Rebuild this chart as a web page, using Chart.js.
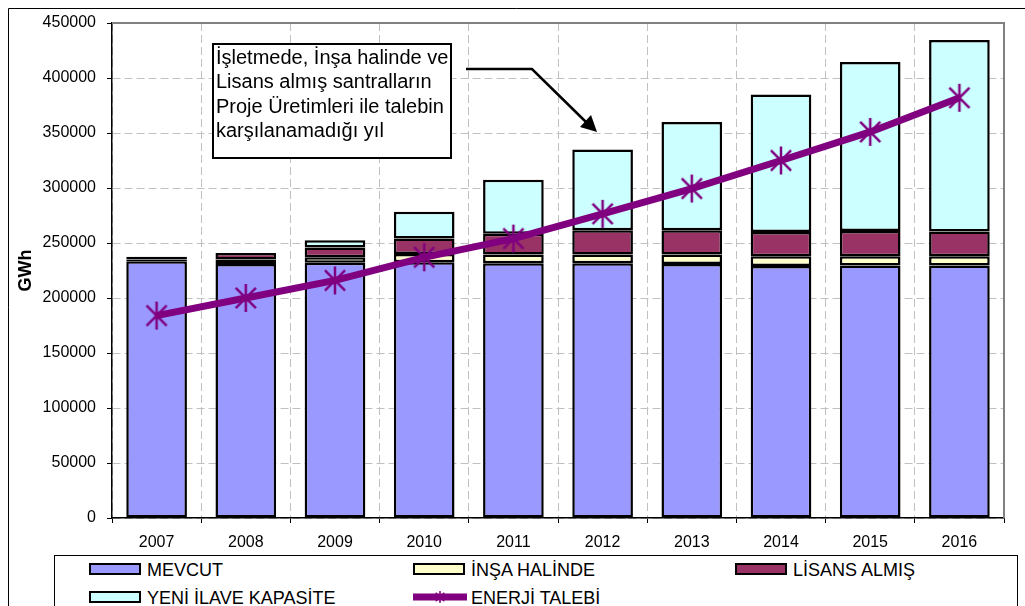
<!DOCTYPE html>
<html>
<head>
<meta charset="utf-8">
<script src="https://cdn.jsdelivr.net/npm/chart.js@4"></script>
<style>
  body { margin: 0; background: #fff; }
  #wrap { position: relative; width: 1025px; height: 606px; overflow: hidden; font-family: "Liberation Sans", Arial, sans-serif; }
  #legend { position: absolute; left: 54px; top: 555px; width: 962px; height: 60px; border: 1px solid #000; background: #fff; }
  .item { position: absolute; font-size: 18px; line-height: 18px; color: #000; white-space: nowrap; }
  .sw { position: absolute; width: 48px; height: 8px; border: 2px solid #000; }
</style>
</head>
<body>
<div id="wrap">
  <canvas id="chart" width="1025" height="606"></canvas>
  <div id="legend"></div>
</div>
<script>
    // Data
    const years = ['2007', '2008', '2009', '2010', '2011', '2012', '2013', '2014', '2015', '2016'];
    const mevcut = [233500, 231000, 232000, 232500, 231500, 231500, 231000, 229000, 229500, 229500];
    const insa   = [1500, 4000, 5000, 7500, 8000, 8000, 8500, 9000, 8500, 8500];
    const lisans = [2500, 6000, 9000, 14000, 19000, 22000, 22000, 22000, 23000, 22500];
    const yeni   = [0, 0, 6500, 24500, 49000, 73500, 98500, 125000, 153500, 174000];
    const talep  = [184000, 200000, 216000, 237000, 254000, 276500, 299500, 325000, 351000, 382000];
    const yTicks = [0, 50000, 100000, 150000, 200000, 250000, 300000, 350000, 400000, 450000];

    const seriesNames = ['MEVCUT', 'İNŞA HALİNDE', 'LİSANS ALMIŞ', 'YENİ İLAVE KAPASİTE', 'ENERJİ TALEBİ'];
    const colors = ['#9999FF', '#FFFFCC', '#993366', '#CCFFFF', '#800080'];
    const noteLines = ['İşletmede, İnşa halinde ve', 'Lisans almış santralların', 'Proje Üretimleri ile talebin', 'karşılanamadığı yıl'];

    Chart.defaults.font.family = '"Liberation Sans", Arial, sans-serif';
    Chart.defaults.color = '#000';

    // Excel-like asterisk marker
    function makeStar(r, w) {
      const c = document.createElement('canvas');
      c.width = c.height = r * 2 + 4;
      const g = c.getContext('2d');
      const m = r + 2;
      g.strokeStyle = colors[4];
      g.lineWidth = w;
      g.beginPath();
      g.moveTo(m, m - r); g.lineTo(m, m + r);
      const d = r * 0.72;
      g.moveTo(m - d, m - d); g.lineTo(m + d, m + d);
      g.moveTo(m + d, m - d); g.lineTo(m - d, m + d);
      g.stroke();
      return c;
    }
    const star = makeStar(14, 2.5);

    // frame, plot border and annotation
    const decor = {
      id: 'decor',
      beforeDraw(chart) {
        const ctx = chart.ctx;
        ctx.save();
        ctx.fillStyle = '#fff';
        ctx.fillRect(0, 0, chart.width, chart.height);
        ctx.strokeStyle = '#000';
        ctx.lineWidth = 1;
        ctx.beginPath();
        ctx.moveTo(8.5, chart.height); ctx.lineTo(8.5, 8.5); ctx.lineTo(chart.width, 8.5);
        ctx.stroke();
        ctx.restore();
      },
      afterDraw(chart) {
        const ctx = chart.ctx;
        const a = chart.chartArea;
        ctx.save();
        ctx.strokeStyle = '#808080';
        ctx.lineWidth = 2;
        ctx.beginPath();
        ctx.moveTo(a.left, a.top); ctx.lineTo(a.right, a.top); ctx.lineTo(a.right, a.bottom);
        ctx.stroke();

        // note box
        ctx.fillStyle = '#fff';
        ctx.fillRect(213, 44, 238, 114);
        ctx.strokeStyle = '#000';
        ctx.lineWidth = 2;
        ctx.strokeRect(213, 44, 238, 114);
        ctx.fillStyle = '#000';
        ctx.font = '20px "Liberation Sans", Arial, sans-serif';
        ctx.textBaseline = 'middle';
        noteLines.forEach((t, i) => ctx.fillText(t, 216, 58 + i * 24.5));

        // arrow
        ctx.lineWidth = 2.5;
        ctx.beginPath();
        ctx.moveTo(466, 69); ctx.lineTo(532, 69); ctx.lineTo(587, 123);
        ctx.stroke();
        ctx.beginPath();
        ctx.moveTo(597, 132); ctx.lineTo(580, 127); ctx.lineTo(591, 115);
        ctx.closePath();
        ctx.fill();
        ctx.restore();
      }
    };

    const barDs = (i, data) => ({
      type: 'bar',
      label: seriesNames[i],
      data: data,
      backgroundColor: colors[i],
      borderColor: '#000',
      borderWidth: 2.5,
      borderSkipped: false,
      barPercentage: 0.68,
      categoryPercentage: 1,
      stack: 'supply',
      order: 1
    });

    new Chart(document.getElementById('chart').getContext('2d'), {
      data: {
        labels: years,
        datasets: [
          {
            type: 'line',
            label: seriesNames[4],
            data: talep,
            borderColor: colors[4],
            borderWidth: 7,
            pointStyle: star,
            pointRadius: 14,
            tension: 0,
            fill: false,
            stack: 'demand',
            order: 0
          },
          barDs(0, mevcut),
          barDs(1, insa),
          barDs(2, lisans),
          barDs(3, yeni)
        ]
      },
      options: {
        responsive: false,
        animation: false,
        layout: { padding: { left: 0, right: 11, top: 23, bottom: 0 } },
        plugins: { legend: { display: false }, tooltip: { enabled: false } },
        scales: {
          x: {
            stacked: true,
            grid: { color: '#c0c0c0', lineWidth: 1, tickColor: '#000', tickLength: 5, tickWidth: 1, offset: true },
            border: { color: '#000', width: 1.5, dash: [8, 4] },
            ticks: { font: { size: 16 }, padding: 10, maxRotation: 0 },
            afterFit: s => { s.height = 88; }
          },
          y: {
            stacked: true,
            min: yTicks[0],
            max: yTicks[yTicks.length - 1],
            afterBuildTicks: s => { s.ticks = yTicks.map(v => ({ value: v })); },
            grid: { color: '#c0c0c0', lineWidth: 1, tickColor: '#000', tickLength: 5, tickWidth: 1 },
            border: { color: '#000', width: 1.5, dash: [8, 4] },
            ticks: { font: { size: 16 }, padding: 11, callback: v => String(v) },
            title: { display: true, text: 'GWh', font: { size: 18, weight: 'bold' }, padding: { top: 15 } },
            afterFit: s => { s.width = 112; }
          }
        }
      },
      plugins: [decor]
    });

    // Legend
    const legend = document.getElementById('legend');
    const slots = [[34, 7], [358, 7], [680, 7], [34, 35], [358, 35]];
    seriesNames.forEach((name, i) => {
      const [x, y] = slots[i];
      if (i < 4) {
        const sw = document.createElement('div');
        sw.className = 'sw';
        sw.style.left = x + 'px';
        sw.style.top = y + 'px';
        sw.style.background = colors[i];
        legend.appendChild(sw);
      } else {
        const c = document.createElement('canvas');
        c.width = 54; c.height = 16;
        c.style.position = 'absolute';
        c.style.left = x + 'px';
        c.style.top = (y - 2) + 'px';
        const g = c.getContext('2d');
        g.strokeStyle = colors[4];
        g.lineWidth = 7;
        g.beginPath(); g.moveTo(0, 8); g.lineTo(54, 8); g.stroke();
        g.drawImage(makeStar(6, 1.5), 27 - 8, 0);
        legend.appendChild(c);
      }
      const t = document.createElement('div');
      t.className = 'item';
      t.textContent = name;
      t.style.left = (x + 58) + 'px';
      t.style.top = (y - 2) + 'px';
      legend.appendChild(t);
    });
</script>
</body>
</html>
